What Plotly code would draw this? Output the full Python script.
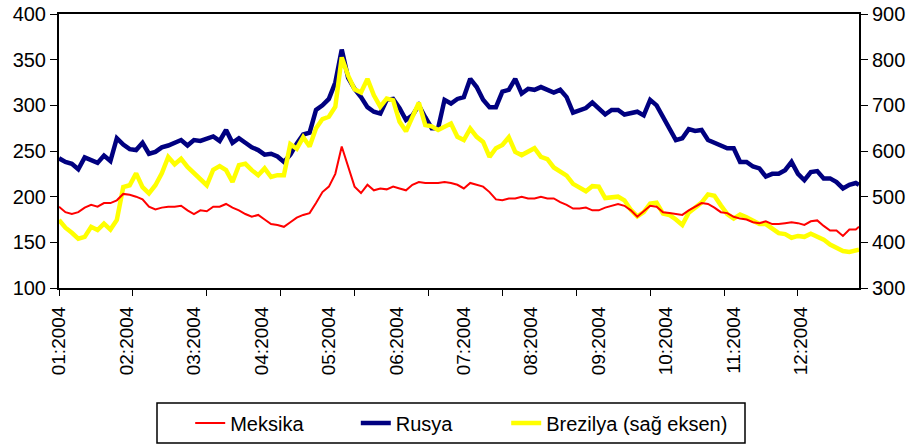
import plotly.graph_objects as go

# Category positions (business-day index), sampled every 2 days
X = list(range(0, 249, 2)) + [249]

MONTH_LABELS = ["01:2004", "02:2004", "03:2004", "04:2004", "05:2004", "06:2004",
                "07:2004", "08:2004", "09:2004", "10:2004", "11:2004", "12:2004"]
LABEL_EVERY = 21   # category interval between labels
TICK_EVERY = 23    # category interval between tick marks
N_CAT = 250

meksika = [
    189, 183, 181, 183, 188, 191, 189, 193, 193, 196,
    203, 202, 200, 197, 189, 186, 188, 189, 189, 190,
    185, 181, 185, 184, 189, 189, 192, 188, 185, 181,
    178, 180, 175, 170, 169, 167, 172, 177, 180, 182,
    193, 205, 211, 225, 255, 233, 211, 204, 213, 207,
    209, 208, 211, 209, 207, 213, 216, 215, 215, 215,
    216, 215, 213, 209, 215, 213, 211, 205, 197, 196,
    198, 198, 200, 198, 198, 200, 198, 198, 194, 191,
    187, 187, 188, 185, 185, 188, 190, 192, 190, 185,
    178, 184, 190, 189, 183, 182, 181, 180, 185, 189,
    193, 192, 188, 183, 182, 178, 176, 175, 172, 171,
    173, 170, 170, 171, 172, 171, 169, 173, 174, 168,
    163, 163, 157, 164, 164,
    167,
]

rusya = [
    242, 238, 236, 230, 243, 240, 237, 245, 239, 264,
    257, 252, 251, 259, 247, 249, 254, 256, 259, 262,
    256, 262, 261, 264, 266, 261, 273, 259, 264, 259,
    254, 251, 246, 247, 244, 238, 246, 258, 268, 270,
    295, 300, 307, 325, 361, 330, 318, 309, 298, 293,
    291, 306, 307, 297, 284, 289, 300, 287, 275, 275,
    306, 302, 307, 309, 329, 320, 306, 298, 298, 315,
    317, 329, 313, 318, 317, 320, 317, 314, 317, 309,
    292, 295, 297, 303, 296, 290, 295, 295, 290, 292,
    293, 289, 306, 300, 288, 275, 262, 264, 274, 272,
    273, 262, 259, 256, 253, 253, 238, 238, 233, 231,
    222, 225, 225, 229, 238, 225, 218, 227, 228, 220,
    220, 216, 209, 213, 215,
    213,
]

brezilya = [
    449, 432, 421, 408, 412, 434, 427, 441, 428, 449,
    521, 525, 551, 521, 507, 525, 551, 587, 571, 583,
    565, 551, 540, 525, 559, 567, 558, 532, 569, 572,
    558, 547, 562, 543, 547, 547, 615, 605, 630, 610,
    650, 670, 675, 697, 805, 765, 735, 728, 758, 722,
    697, 715, 711, 664, 643, 675, 706, 657, 654, 646,
    653, 660, 631, 624, 649, 631, 620, 587, 606, 613,
    630, 598, 591, 598, 606, 587, 582, 564, 556, 546,
    528, 520, 512, 523, 522, 497, 498, 500, 492, 471,
    457, 466, 485, 487, 463, 460, 450, 438, 465, 477,
    487, 505, 502, 481, 462, 452, 461, 455, 448, 440,
    440, 431, 420, 418, 410, 414, 412, 419, 412, 406,
    395, 388, 381, 379, 382,
    384,
]

FONT = "Liberation Sans, Arial, sans-serif"

fig = go.Figure()
fig.add_trace(go.Scatter(x=X, y=meksika, name="Meksika", mode="lines",
                         line=dict(color="#FF0000", width=2), yaxis="y3",
                         legend="legend"))
fig.add_trace(go.Scatter(x=X, y=rusya, name="Rusya", mode="lines",
                         line=dict(color="#000080", width=4.5), yaxis="y",
                         legend="legend2"))
fig.add_trace(go.Scatter(x=X, y=brezilya, name="Brezilya (sağ eksen)", mode="lines",
                         line=dict(color="#FFFF00", width=4.5), yaxis="y2",
                         legend="legend3"))

label_pos = [i * LABEL_EVERY for i in range(len(MONTH_LABELS))]
tick_pos = list(range(0, N_CAT, TICK_EVERY))

leg_common = dict(orientation="h", xanchor="left", yanchor="middle", y=-0.4927,
                  bgcolor="rgba(0,0,0,0)", borderwidth=0, font=dict(size=20))

fig.update_layout(
    width=911, height=446,
    margin=dict(l=59, r=52, t=14, b=158, autoexpand=False),
    paper_bgcolor="white", plot_bgcolor="white",
    font=dict(family=FONT, size=20, color="black"),
    showlegend=True,
    legend=dict(x=0.164, **leg_common),
    legend2=dict(x=0.371, **leg_common),
    legend3=dict(x=0.559, **leg_common),
    shapes=[dict(type="rect", xref="paper", yref="paper",
                 x0=0.1225, x1=0.8575, y0=-0.5657, y1=-0.4197,
                 line=dict(color="black", width=1.5), fillcolor="rgba(0,0,0,0)")],
    xaxis=dict(range=[0, N_CAT - 1], tickmode="array", tickvals=label_pos,
               ticktext=MONTH_LABELS, tickangle=-90, ticks="",
               tickfont=dict(size=19),
               ticklabelstandoff=9, automargin=False,
               showline=True, linecolor="black", linewidth=2, mirror=True,
               showgrid=False, zeroline=False,
               minor=dict(tickmode="array", tickvals=tick_pos, ticks="outside",
                          ticklen=6, tickwidth=1, tickcolor="black", showgrid=False)),
    yaxis=dict(range=[100, 400], dtick=50, tick0=100, ticks="outside", ticklen=7,
               tickcolor="black", showline=True, linecolor="black", linewidth=2,
               mirror=True, showgrid=False, zeroline=False, automargin=False,
               ticklabeloverflow="allow"),
    yaxis2=dict(range=[300, 900], dtick=100, tick0=300, overlaying="y", side="right",
                ticks="outside", ticklen=7, tickcolor="black", showline=True,
                linecolor="black", linewidth=2, showgrid=False, zeroline=False,
                automargin=False, ticklabeloverflow="allow"),
    yaxis3=dict(range=[100, 400], overlaying="y", visible=False),
)

# remove the default 8px page margin so the 911x446 figure fills the window exactly
fig.write_html("out.html", config={"displayModeBar": False},
               post_script="document.body.style.margin='0';document.body.style.overflow='hidden';")
